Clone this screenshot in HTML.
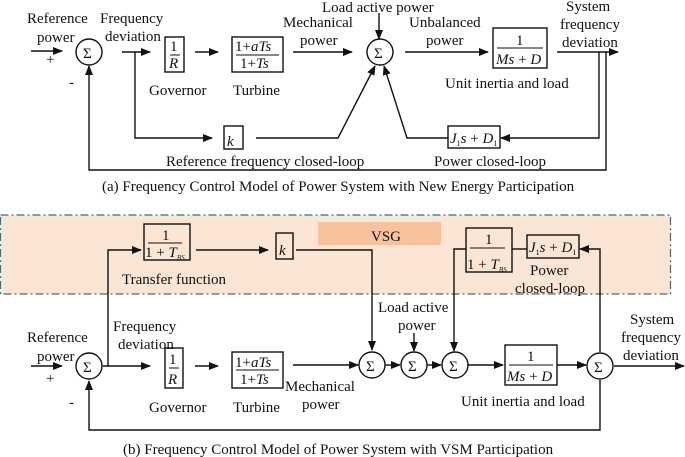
<!DOCTYPE html>
<html><head><meta charset="utf-8"><style>
html,body{margin:0;padding:0;background:#fff}
svg{display:block}
text{font-family:"Liberation Serif",serif;font-size:15px;fill:#111}
.i{font-style:italic}
</style></head><body>
<svg width="685" height="457" viewBox="0 0 685 457" xmlns="http://www.w3.org/2000/svg">
<defs><marker id="a" markerWidth="10" markerHeight="8" refX="9" refY="4" orient="auto" markerUnits="userSpaceOnUse"><path d="M0,0 L10,4 L0,8 z" fill="#111"/></marker></defs>
<g stroke="#111" stroke-width="1.4" fill="none">
<circle cx="89" cy="52" r="13"/>
<circle cx="380" cy="52" r="13"/>
<rect x="165" y="37" width="19" height="35"/>
<rect x="232" y="37" width="51" height="35"/>
<rect x="493" y="28" width="54" height="40"/>
<rect x="224" y="126" width="19" height="23"/>
<rect x="448" y="126" width="52" height="22"/>
<line x1="31" y1="51" x2="62" y2="51" marker-end="url(#a)"/>
<line x1="122" y1="52" x2="150" y2="52" marker-end="url(#a)"/>
<polyline points="135,52 135,138 212,138" marker-end="url(#a)"/>
<line x1="195" y1="52" x2="218" y2="52" marker-end="url(#a)"/>
<line x1="293" y1="52" x2="352" y2="52" marker-end="url(#a)"/>
<line x1="379" y1="13" x2="379" y2="39" marker-end="url(#a)"/>
<line x1="405" y1="52" x2="488" y2="52" marker-end="url(#a)"/>
<line x1="557" y1="52" x2="618" y2="52" marker-end="url(#a)"/>
<polyline points="599,52 599,138 501,138" marker-end="url(#a)"/>
<polyline points="448,138 407,138 384,66" marker-end="url(#a)"/>
<polyline points="256,138 338,138 375,66" marker-end="url(#a)"/>
<polyline points="606,52 606,170 89,170 89,66" marker-end="url(#a)"/>
<line x1="170" y1="55" x2="180" y2="55" stroke-width="1"/>
<line x1="236" y1="55" x2="279" y2="55" stroke-width="1"/>
<line x1="497" y1="48" x2="543" y2="48" stroke-width="1"/>
</g>
<rect x="0.5" y="215" width="670" height="79" fill="#fbe6d6" stroke="#3d6f7a" stroke-width="1.2" stroke-dasharray="8,3,2,3"/>
<rect x="318" y="222" width="123" height="23" fill="#f8c39c"/>
<g stroke="#111" stroke-width="1.4" fill="none">
<circle cx="89" cy="366" r="13"/>
<circle cx="372" cy="365" r="13"/>
<circle cx="414" cy="365" r="13"/>
<circle cx="455" cy="365" r="13"/>
<circle cx="600" cy="366" r="13"/>
<rect x="144" y="224" width="46" height="36"/>
<rect x="276" y="233" width="17" height="26"/>
<rect x="466" y="228" width="46" height="44"/>
<rect x="527" y="235" width="52" height="23"/>
<rect x="165" y="348" width="18" height="40"/>
<rect x="232" y="352" width="51" height="36"/>
<rect x="505" y="345" width="52" height="40"/>
<line x1="148" y1="243" x2="182" y2="243" stroke-width="1"/>
<line x1="470" y1="248" x2="505" y2="248" stroke-width="1"/>
<line x1="169" y1="368" x2="179" y2="368" stroke-width="1"/>
<line x1="236" y1="370" x2="279" y2="370" stroke-width="1"/>
<line x1="509" y1="365" x2="553" y2="365" stroke-width="1"/>
<line x1="31" y1="366" x2="62" y2="366" marker-end="url(#a)"/>
<line x1="103" y1="366" x2="150" y2="366" marker-end="url(#a)"/>
<polyline points="108,366 108,250 141,250" marker-end="url(#a)"/>
<line x1="196" y1="250" x2="268" y2="250" marker-end="url(#a)"/>
<polyline points="296,250 372,250 372,350" marker-end="url(#a)"/>
<line x1="195" y1="366" x2="218" y2="366" marker-end="url(#a)"/>
<line x1="293" y1="365" x2="358" y2="365" marker-end="url(#a)"/>
<line x1="385" y1="365" x2="400" y2="365" marker-end="url(#a)"/>
<line x1="427" y1="365" x2="441" y2="365" marker-end="url(#a)"/>
<line x1="414" y1="333" x2="414" y2="351" marker-end="url(#a)"/>
<line x1="468" y1="365" x2="503" y2="365" marker-end="url(#a)"/>
<line x1="557" y1="365" x2="586" y2="365" marker-end="url(#a)"/>
<line x1="614" y1="366" x2="684" y2="366" marker-end="url(#a)"/>
<polyline points="600,352 600,249 580,249" marker-end="url(#a)"/>
<line x1="512" y1="249" x2="527" y2="249"/>
<polyline points="466,249 454,249 454,351" marker-end="url(#a)"/>
<polyline points="600,380 600,430 89,430 89,381" marker-end="url(#a)"/>
</g>
<g>
<text x="27" y="23">Reference</text>
<text x="37" y="42">power</text>
<text x="46" y="64">+</text>
<text x="69" y="87">-</text>
<text x="83" y="58" font-size="16">Σ</text>
<text x="374" y="58" font-size="16">Σ</text>
<text x="100" y="23">Frequency</text>
<text x="105" y="41">deviation</text>
<text x="170" y="51">1</text><text x="169" y="68" class="i">R</text>
<text x="235" y="51">1+<tspan class="i">aTs</tspan></text>
<text x="240" y="68">1+<tspan class="i">Ts</tspan></text>
<text x="149" y="95">Governor</text>
<text x="233" y="95">Turbine</text>
<text x="283" y="27">Mechanical</text>
<text x="300" y="45">power</text>
<text x="322" y="12">Load active power</text>
<text x="409" y="27">Unbalanced</text>
<text x="426" y="45">power</text>
<text x="516" y="45">1</text>
<text x="496" y="64" class="i">Ms<tspan font-style="normal"> + </tspan>D</text>
<text x="445" y="88">Unit inertia and load</text>
<text x="566" y="11">System</text>
<text x="560" y="29">frequency</text>
<text x="562" y="47">deviation</text>
<text x="227" y="146" class="i" font-size="19">k</text>
<text x="450" y="143" class="i">J<tspan font-size="8" font-style="normal" dy="3">1</tspan><tspan dy="-3">s</tspan><tspan font-style="normal"> + </tspan>D<tspan font-size="8" font-style="normal" dy="3">1</tspan></text>
<text x="166" y="166">Reference frequency closed-loop</text>
<text x="434" y="166">Power closed-loop</text>
<text x="102" y="191" font-size="15.4">(a) Frequency Control Model of Power System with New Energy Participation</text>
<text x="371" y="241">VSG</text>
<text x="162" y="240">1</text>
<text x="145" y="257" font-size="12">1 + <tspan class="i">T</tspan><tspan font-size="7" class="i" dy="3">BS</tspan></text>
<text x="122" y="284">Transfer function</text>
<text x="279" y="255" class="i" font-size="19">k</text>
<text x="485" y="244">1</text>
<text x="467" y="269" font-size="12">1 + <tspan class="i">T</tspan><tspan font-size="7" class="i" dy="3">BS</tspan></text>
<text x="529" y="252" class="i">J<tspan font-size="8" font-style="normal" dy="3">1</tspan><tspan dy="-3">s</tspan><tspan font-style="normal"> + </tspan>D<tspan font-size="8" font-style="normal" dy="3">1</tspan></text>
<text x="530" y="275">Power</text>
<text x="515" y="293">closed-loop</text>
<text x="378" y="312">Load active</text>
<text x="398" y="330">power</text>
<text x="27" y="342">Reference</text>
<text x="37" y="361">power</text>
<text x="46" y="383">+</text>
<text x="69" y="407">-</text>
<text x="113" y="331">Frequency</text>
<text x="118" y="349">deviation</text>
<text x="83" y="372" font-size="16">Σ</text>
<text x="366" y="371" font-size="16">Σ</text>
<text x="408" y="371" font-size="16">Σ</text>
<text x="449" y="371" font-size="16">Σ</text>
<text x="594" y="372" font-size="16">Σ</text>
<text x="169" y="364">1</text><text x="168" y="384" class="i">R</text>
<text x="235" y="367">1+<tspan class="i">aTs</tspan></text>
<text x="240" y="384">1+<tspan class="i">Ts</tspan></text>
<text x="149" y="412">Governor</text>
<text x="233" y="412">Turbine</text>
<text x="285" y="391">Mechanical</text>
<text x="302" y="409">power</text>
<text x="527" y="361">1</text>
<text x="507" y="381" class="i">Ms<tspan font-style="normal"> + </tspan>D</text>
<text x="461" y="406">Unit inertia and load</text>
<text x="630" y="324">System</text>
<text x="621" y="342">frequency</text>
<text x="623" y="360">deviation</text>
<text x="123" y="454" font-size="15.4">(b) Frequency Control Model of Power System with VSM Participation</text>
</g>
</svg>
</body></html>
